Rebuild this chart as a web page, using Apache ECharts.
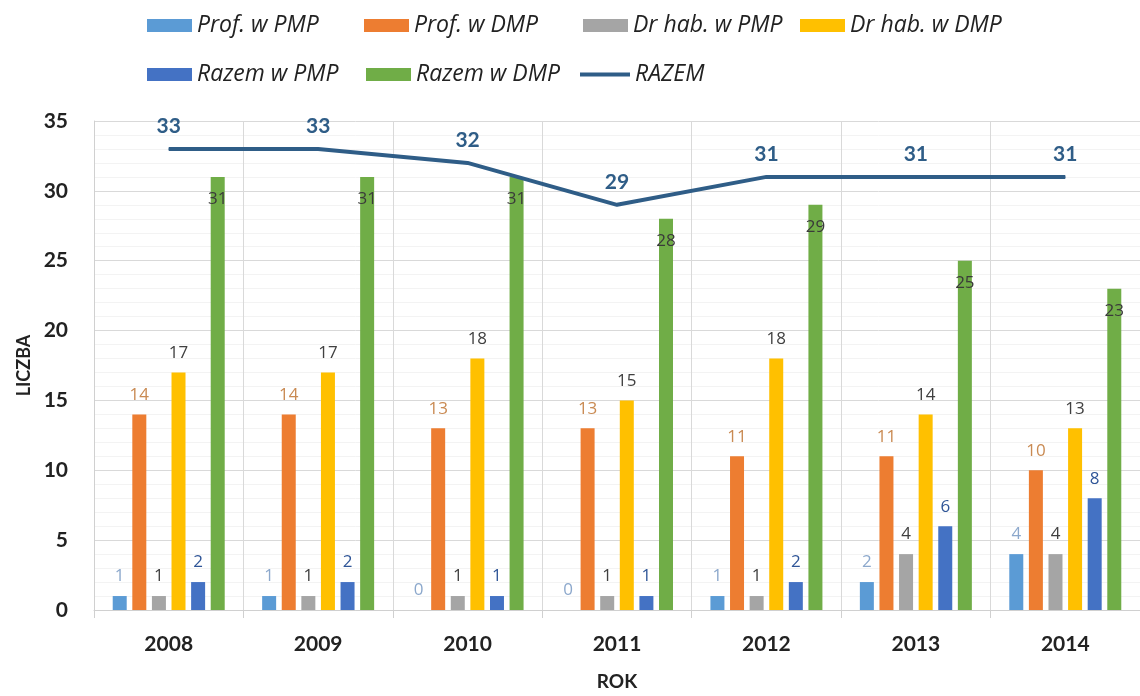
<!DOCTYPE html>
<html>
<head>
<meta charset="utf-8">
<script src="https://cdn.jsdelivr.net/npm/echarts@6/dist/echarts.min.js"></script>
<style>
  html, body { margin: 0; padding: 0; background: #fff; }
  #main { width: 1140px; height: 696px; }
</style>
</head>
<body>
<div id="main"></div>
<script>
// dane z wykresu
const years = ['2008', '2009', '2010', '2011', '2012', '2013', '2014']
const profPMP = [1, 1, 0, 0, 1, 2, 4]
const profDMP = [14, 14, 13, 13, 11, 11, 10]
const drHabPMP = [1, 1, 1, 1, 1, 4, 4]
const drHabDMP = [17, 17, 18, 15, 18, 14, 13]
const razemPMP = [2, 2, 1, 1, 2, 6, 8]
const razemDMP = [31, 31, 31, 28, 29, 25, 23]
const razem = [33, 33, 32, 29, 31, 31, 31]
const yTicks = [0, 5, 10, 15, 20, 25, 30, 35]

const chart = echarts.init(document.getElementById('main'))

const legendFont = {
  fontFamily: 'Open Sans',
  fontStyle: 'italic',
  fontSize: 23,
  color: '#222'
}

// jedna legenda na pozycję, żeby odtworzyć nierówne odstępy
function legendAt(name, left, top, isLine) {
  return {
    data: [{ name: name, icon: 'rect' }],
    left: left,
    top: top,
    padding: 0,
    itemWidth: isLine ? 50 : 45,
    itemHeight: isLine ? 4 : 13,
    itemGap: 0,
    textStyle: legendFont,
    selectedMode: false
  }
}

function barSeries(name, data, color, labelColor, pos) {
  return {
    name: name,
    type: 'bar',
    data: data,
    barWidth: 14,
    barGap: '40%',
    itemStyle: { color: color },
    label: {
      show: true,
      position: pos || 'top',
      distance: pos ? 14 : 11,
      color: labelColor,
      fontFamily: 'Open Sans',
      fontSize: 17
    }
  }
}

const option = {
  backgroundColor: '#fff',
  animation: false,
  legend: [
    legendAt('Prof. w PMP', 147, 14),
    legendAt('Prof. w DMP', 364, 14),
    legendAt('Dr hab. w PMP', 583, 14),
    legendAt('Dr hab. w DMP', 800, 14),
    legendAt('Razem w PMP', 147, 63),
    legendAt('Razem w DMP', 366, 63),
    legendAt('RAZEM', 580, 63, true)
  ],
  grid: {
    left: 94,
    right: -9,
    top: 121,
    bottom: 82
  },
  xAxis: {
    type: 'category',
    data: years,
    boundaryGap: true,
    name: 'ROK',
    nameLocation: 'middle',
    nameGap: 62,
    nameTextStyle: { fontFamily: 'Lato', fontWeight: 'bold', fontSize: 19, color: '#222' },
    axisLine: { show: true, lineStyle: { color: '#d0d0d0', width: 1 } },
    axisTick: { show: true, length: 8, lineStyle: { color: '#d0d0d0' } },
    splitLine: { show: true, lineStyle: { color: '#d9d9d9', width: 1 } },
    axisLabel: {
      margin: 24,
      fontFamily: 'Lato',
      fontWeight: 'bold',
      fontSize: 21,
      color: '#222'
    }
  },
  yAxis: {
    type: 'value',
    min: yTicks[0],
    max: yTicks[yTicks.length - 1],
    interval: 5,
    name: 'LICZBA',
    nameLocation: 'middle',
    nameGap: 58,
    nameRotate: 90,
    nameTextStyle: { fontFamily: 'Lato', fontWeight: 'bold', fontSize: 18, color: '#222' },
    axisLine: { show: true, lineStyle: { color: '#d0d0d0', width: 1 } },
    axisTick: { show: false },
    minorTick: { show: false, splitNumber: 5 },
    minorSplitLine: { show: true, lineStyle: { color: '#f3f3f3', width: 1 } },
    splitLine: { show: true, lineStyle: { color: '#d9d9d9', width: 1 } },
    axisLabel: {
      margin: 26,
      fontFamily: 'Lato',
      fontWeight: 'bold',
      fontSize: 21,
      color: '#222'
    }
  },
  series: [
    barSeries('Prof. w PMP', profPMP, '#5B9BD5', '#8CA8CC'),
    barSeries('Prof. w DMP', profDMP, '#ED7D31', '#C98A52'),
    barSeries('Dr hab. w PMP', drHabPMP, '#A5A5A5', '#404040'),
    barSeries('Dr hab. w DMP', drHabDMP, '#FFC000', '#404040'),
    barSeries('Razem w PMP', razemPMP, '#4472C4', '#2F5597'),
    barSeries('Razem w DMP', razemDMP, '#70AD47', '#3A3A3A', 'insideTop'),
    {
      name: 'RAZEM',
      type: 'line',
      data: razem,
      symbol: 'circle',
      symbolSize: 1,
      showSymbol: true,
      lineStyle: { color: '#2F5D87', width: 4 },
      itemStyle: { color: '#2F5D87' },
      z: 5,
      label: {
        show: true,
        position: 'top',
        distance: 12,
        color: '#2F5D87',
        fontFamily: 'Lato',
        fontWeight: 'bold',
        fontSize: 21
      }
    }
  ]
}

chart.setOption(option)
</script>
</body>
</html>
